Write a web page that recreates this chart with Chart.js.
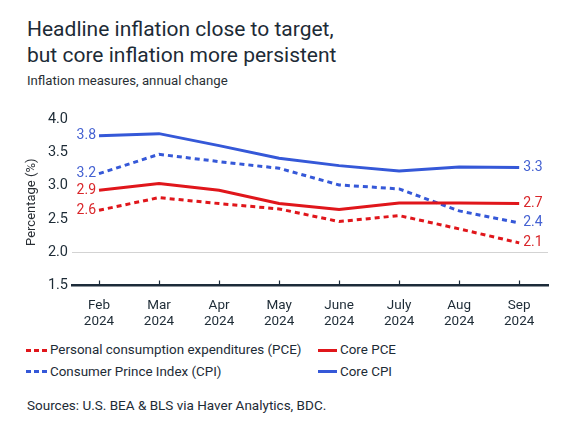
<!DOCTYPE html>
<html>
<head>
<meta charset="utf-8">
<script src="https://cdn.jsdelivr.net/npm/chart.js@4/dist/chart.umd.min.js"></script>
<style>
  body { margin: 0; background: #fff; font-family: Roboto, sans-serif; color: #1d2b36; }
  #wrap { position: relative; width: 575px; height: 431px; overflow: hidden; }
  .title { position: absolute; left: 27px; top: 16px; font-size: 21px; line-height: 26px; }
  .subtitle { position: absolute; left: 27px; top: 72px; font-size: 13.2px; line-height: 17px; color: #2a2f35; }
  #chartBox { position: absolute; left: 0; top: 100px; width: 575px; height: 230px; }
  .legend-item { position: absolute; font-size: 13.4px; line-height: 20px; color: #1d2b36; white-space: nowrap; }
  .legend-item .mk { position: absolute; top: 8.5px; height: 3px; }
  .source { position: absolute; left: 27px; top: 395px; font-size: 13.5px; line-height: 20px; color: #1d2b36; }
</style>
</head>
<body>
<div id="wrap">
  <div class="title">Headline inflation close to target,<br>but core inflation more persistent</div>
  <div class="subtitle">Inflation measures, annual change</div>
  <div id="chartBox"><canvas id="chart"></canvas></div>
  <div id="legend"></div>
  <div class="source">Sources: U.S. BEA &amp; BLS via Haver Analytics, BDC.</div>
</div>
<script>
const months = ['Feb', 'Mar', 'Apr', 'May', 'June', 'July', 'Aug', 'Sep'];
const year = '2024';
const pce = [2.63, 2.82, 2.73, 2.65, 2.46, 2.55, 2.35, 2.14];
const corePce = [2.93, 3.03, 2.93, 2.73, 2.64, 2.74, 2.74, 2.73];
const cpi = [3.18, 3.47, 3.36, 3.26, 3.01, 2.95, 2.62, 2.44];
const coreCpi = [3.75, 3.78, 3.60, 3.41, 3.30, 3.22, 3.28, 3.27];
const yTicks = [1.5, 2.0, 2.5, 3.0, 3.5, 4.0];

const red = '#e0161b';
const blue = '#3558d8';

const series = [
  { label: 'Personal consumption expenditures (PCE)', values: pce, color: red, text: '#d9262a', dashed: true, legendX: 26, legendY: 340 },
  { label: 'Core PCE', values: corePce, color: red, text: '#d9262a', dashed: false, legendX: 318, legendY: 340 },
  { label: 'Consumer Prince Index (CPI)', values: cpi, color: blue, text: '#4562d2', dashed: true, legendX: 26, legendY: 361.5 },
  { label: 'Core CPI', values: coreCpi, color: blue, text: '#4562d2', dashed: false, legendX: 318, legendY: 361.5 }
];

// html legend, two columns
let legendHtml = '';
series.forEach(s => {
  let bg = s.dashed
    ? `repeating-linear-gradient(90deg, ${s.color} 0 5px, transparent 5px 8px)`
    : s.color;
  legendHtml += `<div class="legend-item" style="left:${s.legendX}px;top:${s.legendY}px;padding-left:${s.dashed ? 24 : 22}px">`
    + `<span class="mk" style="left:0;width:${s.dashed ? 21 : 19}px;background:${bg}"></span>${s.label}</div>`;
});
document.getElementById('legend').innerHTML = legendHtml;

const endLabels = {
  id: 'endLabels',
  afterDatasetsDraw(chart) {
    const ctx = chart.ctx;
    chart.data.datasets.forEach((ds, i) => {
      const pts = chart.getDatasetMeta(i).data;
      const first = pts[0], last = pts[pts.length - 1];
      ctx.save();
      ctx.font = '14px Roboto';
      ctx.fillStyle = ds.labelColor;
      ctx.textBaseline = 'middle';
      ctx.textAlign = 'right';
      ctx.fillText(ds.data[0].y.toFixed(1), first.x - 3, first.y);
      ctx.textAlign = 'left';
      ctx.fillText(ds.data[ds.data.length - 1].y.toFixed(1), last.x + 4, last.y);
      ctx.restore();
    });
    // small tick marks sitting on top of the x axis
    const x = chart.scales.x;
    const bottom = chart.chartArea.bottom;
    ctx.save();
    ctx.strokeStyle = '#1c2b39';
    ctx.lineWidth = 1.2;
    x.ticks.forEach(t => {
      const px = Math.round(x.getPixelForValue(t.value)) + 0.5;
      ctx.beginPath();
      ctx.moveTo(px, bottom - 5);
      ctx.lineTo(px, bottom);
      ctx.stroke();
    });
    ctx.restore();
  }
};

const ctx = document.getElementById('chart').getContext('2d');
const chart = new Chart(ctx, {
  type: 'line',
  data: {
    datasets: series.map(s => ({
      label: s.label,
      data: s.values.map((v, i) => ({ x: i, y: v })),
      borderColor: s.color,
      borderWidth: 3,
      borderDash: s.dashed ? [5, 4] : [],
      labelColor: s.text,
      pointRadius: 0,
      tension: 0,
      fill: false
    }))
  },
  options: {
    responsive: true,
    maintainAspectRatio: false,
    animation: false,
    layout: { padding: { top: 19, right: 27, left: 0, bottom: 0 } },
    plugins: {
      legend: { display: false },
      tooltip: { enabled: false }
    },
    scales: {
      x: {
        type: 'linear',
        min: -0.45,
        max: 7.48,
        afterBuildTicks: scale => { scale.ticks = months.map((m, i) => ({ value: i })); },
        afterFit: scale => { scale.height = 44.5; },
        grid: { display: false },
        border: { display: true, color: '#1c2b39', width: 2.5 },
        ticks: {
          padding: 4,
          color: '#1d2b36',
          font: { family: 'Roboto', size: 13.5 },
          maxRotation: 0,
          autoSkip: false,
          callback: v => [months[v], year]
        }
      },
      y: {
        min: 1.5,
        max: 4.0,
        afterBuildTicks: scale => { scale.ticks = yTicks.map(v => ({ value: v })); },
        afterFit: scale => { scale.width = 72; },
        border: { display: false },
        grid: {
          drawTicks: false,
          lineWidth: 1,
          color: c => c.tick && c.tick.value === 2 ? '#d3d3d3' : 'rgba(0,0,0,0)'
        },
        ticks: {
          padding: 4,
          color: '#1d2b36',
          font: { family: 'Roboto', size: 14.5 },
          callback: v => v.toFixed(1)
        },
        title: {
          display: true,
          text: 'Percentage (%)',
          color: '#2a2f35',
          font: { family: 'Roboto', size: 13 },
          padding: { top: 24, bottom: 0 }
        }
      }
    }
  },
  plugins: [endLabels]
});
</script>
</body>
</html>
